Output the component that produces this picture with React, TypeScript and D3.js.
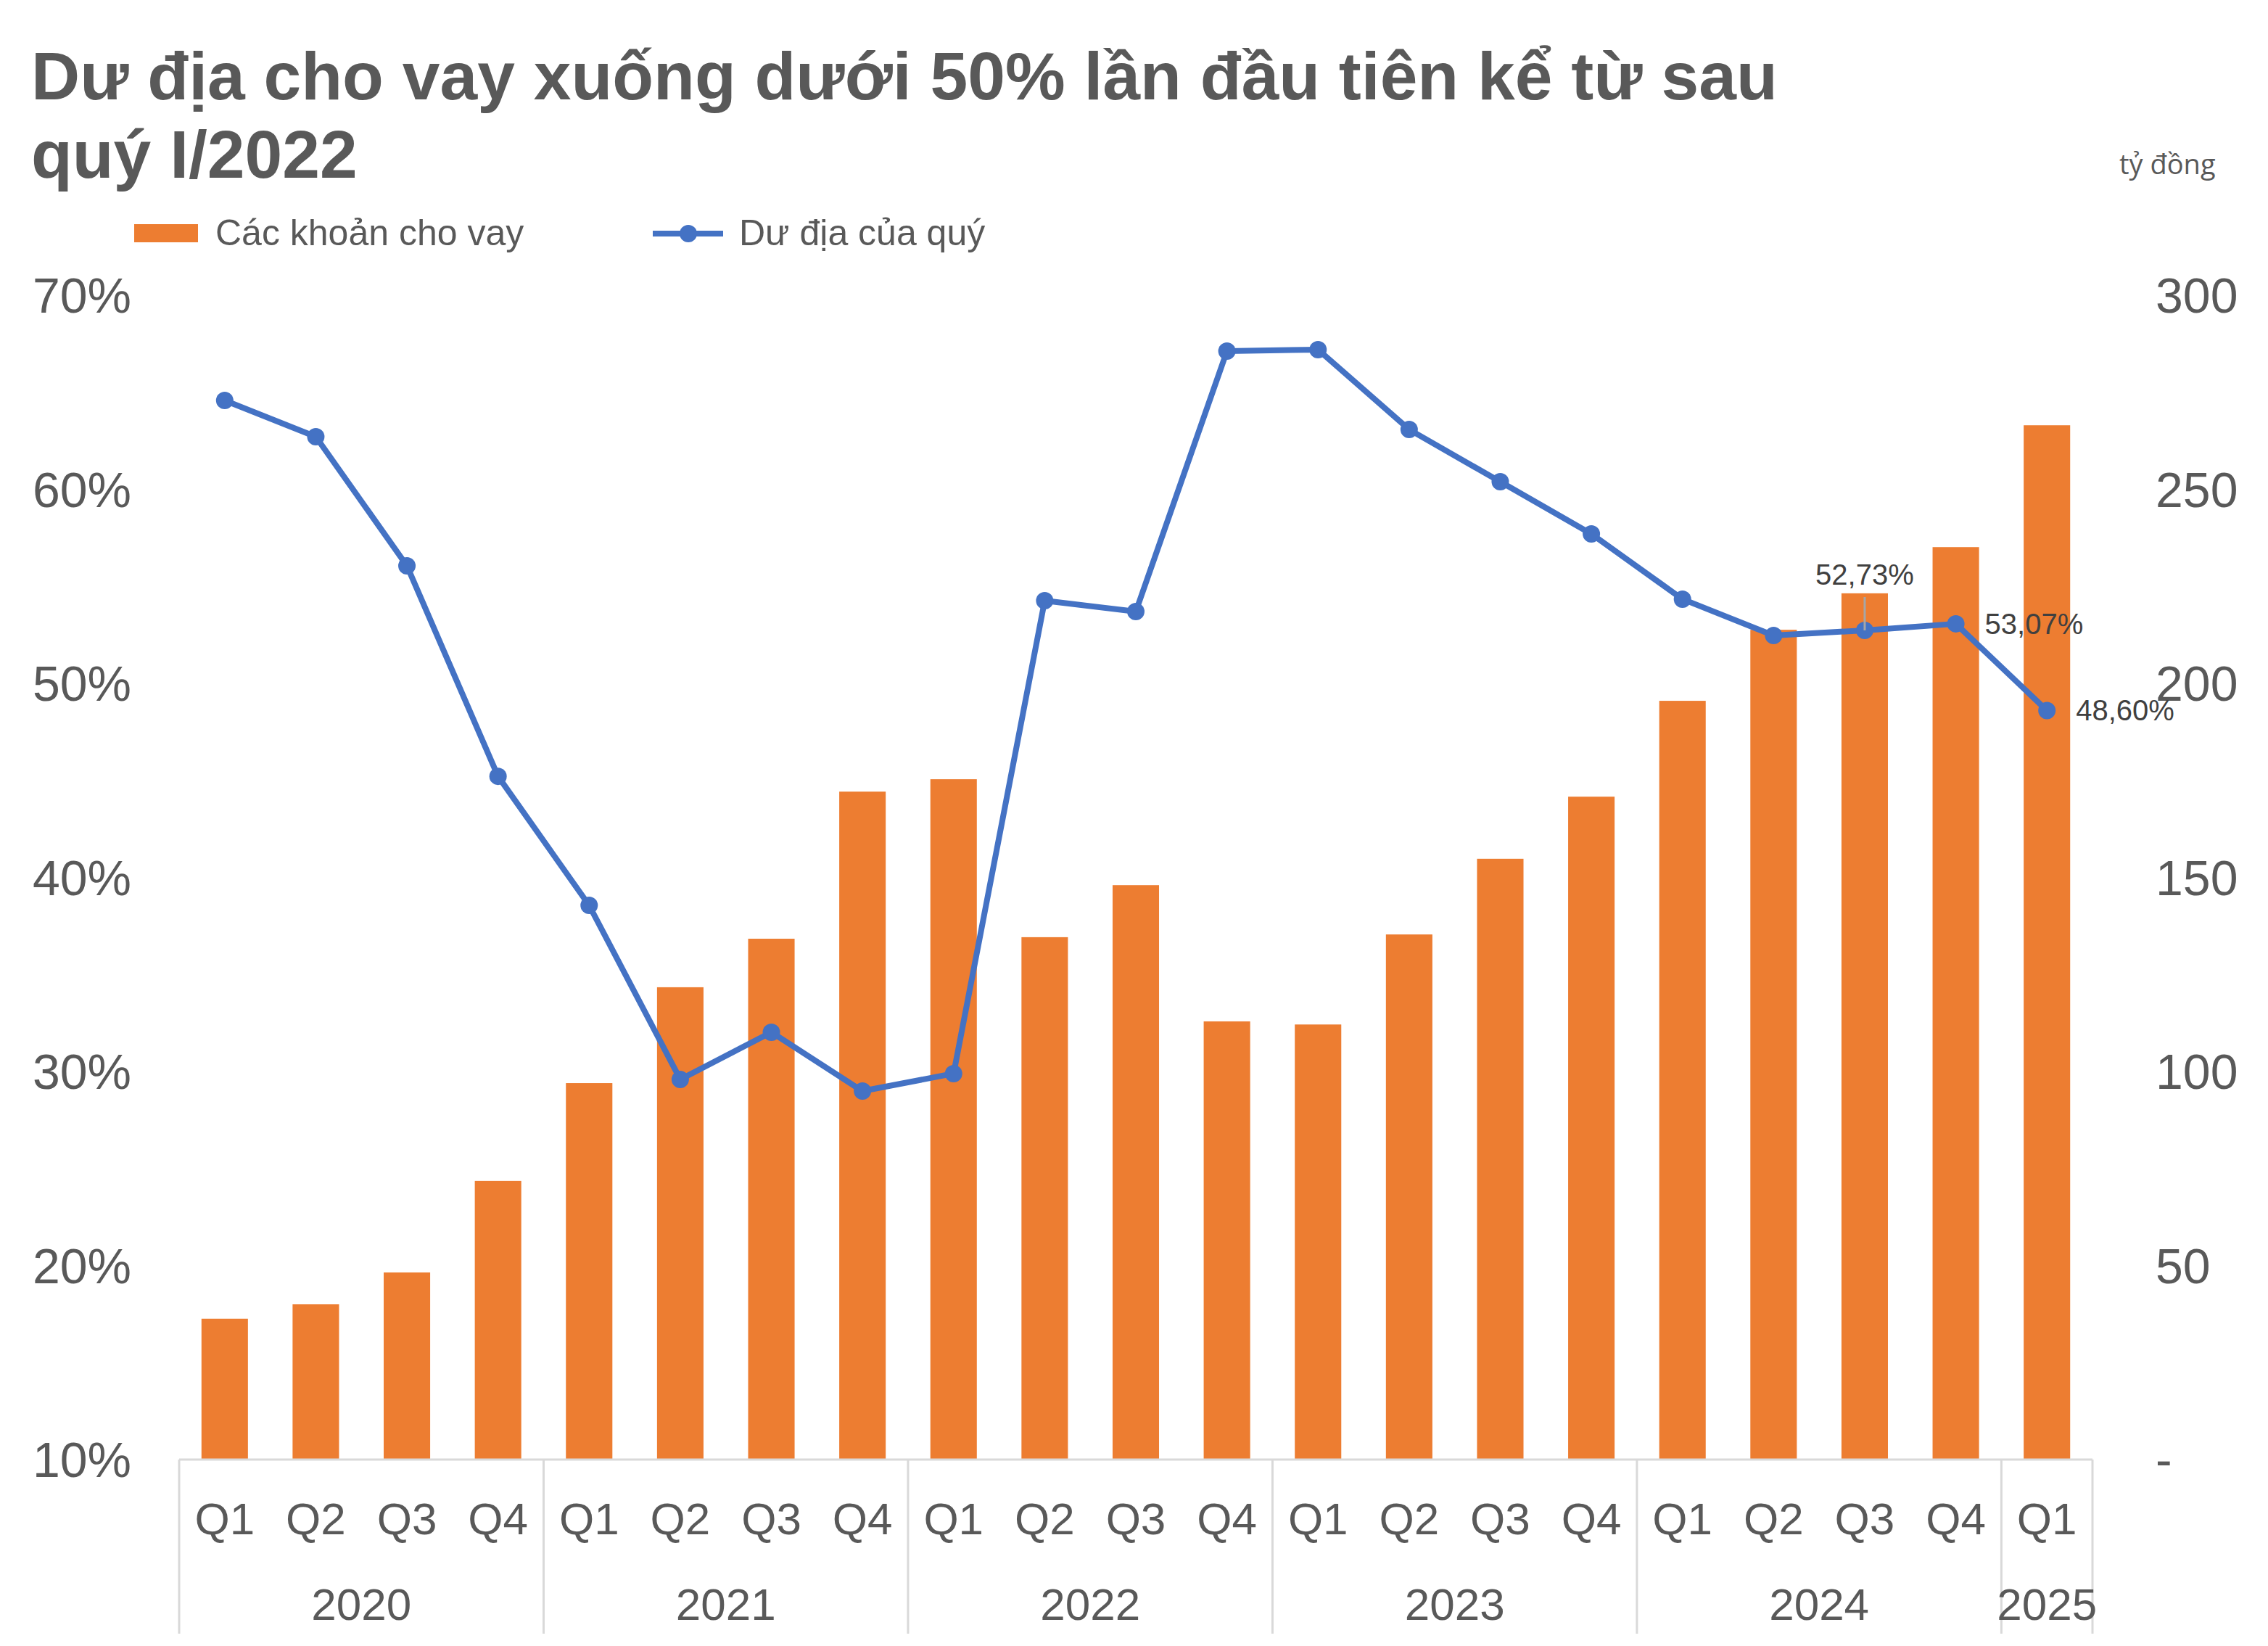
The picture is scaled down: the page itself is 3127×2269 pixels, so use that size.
import React from "react";
import * as d3 from "d3";

const quarters = ["Q1","Q2","Q3","Q4","Q1","Q2","Q3","Q4","Q1","Q2","Q3","Q4","Q1","Q2","Q3","Q4","Q1","Q2","Q3","Q4","Q1"];
const years = ["2020","2021","2022","2023","2024","2025"];
const yearCounts = [4,4,4,4,4,1];
const loans = [36.3,40.0,48.2,71.8,97.0,121.7,134.2,172.1,175.3,134.6,148.0,112.9,112.1,135.3,154.8,170.8,195.5,213.8,223.2,235.1,266.5];
const ratio = [64.58,62.71,56.06,45.21,38.56,29.59,32.02,28.99,29.89,54.26,53.70,67.12,67.20,63.08,60.39,57.70,54.34,52.47,52.73,53.07,48.60];
const leftTicks = [10,20,30,40,50,60,70];
const rightTicks = [0,50,100,150,200,250,300];
const labelIdx = [18,19,20];
const labelPos = ["top","right","right"];

const W = 3127, H = 2269;
const X0 = 247, X1 = 2885, YB = 2012, YT = 407;
const ORANGE = "#ED7D31", BLUE = "#4472C4", GREY = "#595959", AXIS = "#D9D9D9";
const FONT = "'Liberation Sans', Arial, Helvetica, sans-serif";

export default function App() {
  const idx = d3.range(quarters.length);
  const x = d3.scaleBand<number>().domain(idx).range([X0, X1]).paddingInner(0.49).paddingOuter(0.245);
  const step = x.step();
  const cx = (i: number) => (x(i) as number) + x.bandwidth() / 2;
  const yL = d3.scaleLinear().domain([10, 70]).range([YB, YT]);
  const yR = d3.scaleLinear().domain([0, 300]).range([YB, YT]);
  const line = d3.line<number>().x((d, i) => cx(i)).y((d) => yL(d));

  const bounds: number[] = [X0];
  let acc = 0;
  yearCounts.forEach((c) => { acc += c; bounds.push(X0 + step * acc); });
  const fmt = (v: number) => v.toFixed(2).replace(".", ",") + "%";

  return (
    <svg width={W} height={H} style={{ display: "block", position: "absolute", left: 0, top: 0, background: "#fff" }} fontFamily={FONT}>
      <style>{`body{margin:0}`}</style>
      <rect x={0} y={0} width={W} height={H} fill="#fff" />
      <text x={43} y={137} fontSize={93} fontWeight="bold" fill={GREY}>Dư địa cho vay xuống dưới 50% lần đầu tiên kể từ sau</text>
      <text x={43} y={245} fontSize={93} fontWeight="bold" fill={GREY}>quý I/2022</text>
      <text x={2922} y={240} fontSize={38} fill={GREY} fontFamily="'Open Sans', sans-serif">tỷ đồng</text>
      <rect x={185} y={309} width={88} height={25} fill={ORANGE} />
      <text x={297} y={338} fontSize={50} fill={GREY}>Các khoản cho vay</text>
      <line x1={900} x2={997} y1={322} y2={322} stroke={BLUE} strokeWidth={8} />
      <circle cx={949} cy={322} r={12} fill={BLUE} />
      <text x={1019} y={338} fontSize={50} fill={GREY}>Dư địa của quý</text>

      {leftTicks.map((t) => (
        <text key={"l" + t} x={181} y={yL(t) + 24} fontSize={68} fill={GREY} textAnchor="end">{t + "%"}</text>
      ))}
      {rightTicks.map((t) => (
        <text key={"r" + t} x={2972} y={yR(t) + 24} fontSize={68} fill={GREY}>{t === 0 ? "-" : String(t)}</text>
      ))}

      {loans.map((v, i) => (
        <rect key={"b" + i} x={x(i) as number} y={yR(v)} width={x.bandwidth()} height={YB - yR(v)} fill={ORANGE} />
      ))}

      <line x1={X0} x2={X1} y1={YB} y2={YB} stroke={AXIS} strokeWidth={3} />
      {bounds.map((b, i) => (
        <line key={"s" + i} x1={b} x2={b} y1={YB} y2={2252} stroke={AXIS} strokeWidth={3} />
      ))}
      {quarters.map((q, i) => (
        <text key={"q" + i} x={cx(i)} y={2115} fontSize={62} fill={GREY} textAnchor="middle">{q}</text>
      ))}
      {years.map((yv, i) => (
        <text key={"y" + i} x={(bounds[i] + bounds[i + 1]) / 2} y={2233} fontSize={62} fill={GREY} textAnchor="middle">{yv}</text>
      ))}

      <path d={line(ratio) as string} fill="none" stroke={BLUE} strokeWidth={8} strokeLinejoin="round" />
      {ratio.map((v, i) => (
        <circle key={"m" + i} cx={cx(i)} cy={yL(v)} r={12} fill={BLUE} />
      ))}

      {labelIdx.map((i, k) => {
        const px = cx(i), py = yL(ratio[i]);
        if (labelPos[k] === "top") {
          return (
            <g key={"dl" + i}>
              <line x1={px} x2={px} y1={py - 46} y2={py} stroke="#A6A6A6" strokeWidth={3} />
              <text x={px} y={py - 63} fontSize={40} fill="#404040" textAnchor="middle">{fmt(ratio[i])}</text>
            </g>
          );
        }
        return (
          <text key={"dl" + i} x={px + 40} y={py + 14} fontSize={40} fill="#404040">{fmt(ratio[i])}</text>
        );
      })}
    </svg>
  );
}
